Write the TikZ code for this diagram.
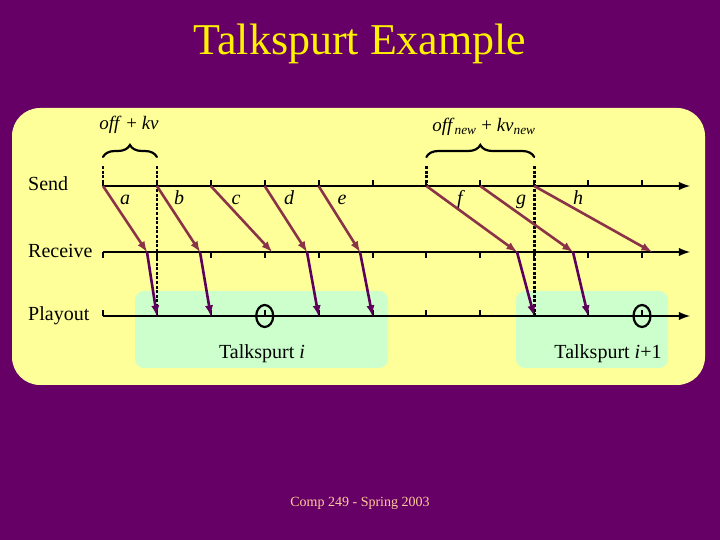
\documentclass[tikz,border=0pt]{standalone}
\usepackage{fontspec}
\setmainfont{Liberation Serif}
\usetikzlibrary{decorations.pathreplacing,shapes.geometric}
\definecolor{slide}{HTML}{660066}
\definecolor{pad}{HTML}{FFFF99}
\definecolor{spurt}{HTML}{CCFFCC}
\definecolor{net}{HTML}{8A3348}
\definecolor{play}{HTML}{5C005C}
\definecolor{foot}{HTML}{FFCC99}
\begin{document}
\begin{tikzpicture}[x=1pt,y=1pt,every node/.style={inner sep=1pt}]
\tikzstyle{axis}=[draw,line width=2.8pt,-latex]
\tikzstyle{tick}=[draw,line width=2pt]
\tikzstyle{guide}=[draw,line width=2.6pt,dash pattern=on 3pt off 1.6pt]
\tikzstyle{netarrow}=[draw,net,line width=2.6pt,-latex]
\tikzstyle{playarrow}=[draw,play,line width=2.6pt,-latex]
\tikzstyle{hold}=[draw,line width=2.2pt,line cap=round,decorate,decoration={brace,amplitude=12pt}]
\tikzstyle{lost}=[draw,ellipse,line width=2.2pt,minimum width=17pt,minimum height=22pt,inner sep=0pt]
\tikzstyle{rowlabel}=[anchor=base west,font=\fontsize{20}{20}\selectfont]
\tikzstyle{pkt}=[anchor=base,font=\fontsize{20}{20}\selectfont\itshape]

% slide and panels
\fill[slide] (0,0) rectangle (720,540);
\fill[pad,rounded corners=28pt] (12,155) rectangle (705,432);
\fill[spurt,rounded corners=9pt] (135,172) rectangle (388,249);
\fill[spurt,rounded corners=9pt] (516,172) rectangle (668,249);

\node[text=yellow,font=\fontsize{44}{44}\selectfont](title) at (360,496){Talkspurt Example};
\node[text=foot,font=\fontsize{14}{14}\selectfont](footer) at (360,37){Comp 249 - Spring 2003};

% time lines
\node[rowlabel](send) at (27,349){Send};
\node[rowlabel](receive) at (27,282){Receive};
\node[rowlabel](playout) at (27,219){Playout};

\foreach \i in {0,...,10}{
  \coordinate (s\i) at (103+53.9*\i,354);
  \coordinate (r\i) at (103+53.9*\i,288);
  \coordinate (p\i) at (103+53.9*\i,224);
  \coordinate (g\i) at (103+53.9*\i,374);
  \coordinate (b\i) at (103+53.9*\i,383);
  \path[tick] (s\i) -- ++(0,6);
  \path[tick] (r\i) -- ++(0,-6);
  \path[tick] (p\i) -- ++(0,6);
}
\coordinate (send end) at (690,354);
\coordinate (receive end) at (690,288);
\coordinate (playout end) at (690,224);
\path[axis] (s0) -- (send end);
\path[axis] (r0) -- (receive end);
\path[axis] (p0) -- (playout end);

% playout offsets
\path[guide] (g0) -- (s0);
\path[guide] (g1) -- (p1);
\path[guide] (g6) -- (s6);
\path[guide] (g8) -- (p8);

\path[hold] (b0) -- (b1);
\path[hold] (b6) -- (b8);
\node[anchor=base,font=\fontsize{19}{19}\selectfont](delay) at (129,410){\textit{off} + \textit{kv}};
\node[anchor=base,font=\fontsize{19}{19}\selectfont](delay new) at (484,408){\textit{off}\textsubscript{\textit{new}} + \textit{kv}\textsubscript{\textit{new}}};

% packets
\node[pkt](la) at (125,335){a};
\node[pkt](lb) at (179,335){b};
\node[pkt](lc) at (236,335){c};
\node[pkt](ld) at (289,335){d};
\node[pkt](le) at (342,335){e};
\node[pkt](lf) at (460,335){f};
\node[pkt](lg) at (521,335){g};
\node[pkt](lh) at (578,335){h};

\coordinate (ra) at (147,288);
\coordinate (rb) at (200,288);
\coordinate (rc) at (272,288);
\coordinate (rd) at (307,288);
\coordinate (re) at (360,288);
\coordinate (rf) at (517,288);
\coordinate (rg) at (573,288);
\coordinate (rh) at (652,288);

\path[netarrow] (s0) -- (ra);
\path[netarrow] (s1) -- (rb);
\path[netarrow] (s2) -- (rc);
\path[netarrow] (s3) -- (rd);
\path[netarrow] (s4) -- (re);
\path[netarrow] (s6) -- (rf);
\path[netarrow] (s7) -- (rg);
\path[netarrow] (s8) -- (rh);

\path[playarrow] (ra) -- (p1);
\path[playarrow] (rb) -- (p2);
\path[playarrow] (rd) -- (p4);
\path[playarrow] (re) -- (p5);
\path[playarrow] (rf) -- (p8);
\path[playarrow] (rg) -- (p9);

\node[lost](miss c) at (p3){};
\node[lost](miss h) at (p10){};

\node[anchor=base,font=\fontsize{20}{20}\selectfont](spurt i) at (262,181){Talkspurt \textit{i}};
\node[anchor=base,font=\fontsize{20}{20}\selectfont](spurt j) at (608,181){Talkspurt \textit{i}+1};
\end{tikzpicture}
\end{document}
